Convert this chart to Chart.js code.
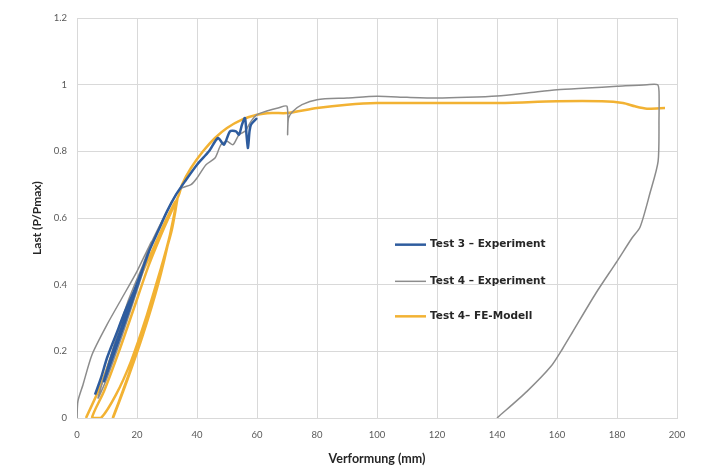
<!DOCTYPE html>
<html>
<head>
<meta charset="utf-8">
<script src="https://cdn.jsdelivr.net/npm/chart.js@4.4.1/dist/chart.umd.min.js"></script>
<style>
  html,body{margin:0;padding:0;background:#fff;}
  #wrap{width:711px;height:470px;position:relative;}
</style>
</head>
<body>
<div id="wrap"><canvas id="c" width="711" height="470"></canvas></div>
<script>
// Series names
const seriesNames = ["Test 3 \u2013 Experiment", "Test 4 \u2013 Experiment", "Test 4\u2013 FE-Modell"];

// Test 3 – Experiment: deformation (mm) and load (P/Pmax)
const test3X = [6, 8, 10, 13, 16, 19, 22, 18, 13, 9, 12, 16, 20, 24, 27, 30, 33, 36, 40, 44, 47, 49, 51, 53, 54, 55, 56, 56.5, 57, 57.5, 58, 60];
const test3Y = [0.07, 0.12, 0.18, 0.25, 0.32, 0.38, 0.45, 0.34, 0.21, 0.11, 0.2, 0.3, 0.4, 0.5, 0.56, 0.62, 0.67, 0.71, 0.76, 0.8, 0.84, 0.82, 0.86, 0.86, 0.85, 0.88, 0.9, 0.85, 0.81, 0.86, 0.88, 0.9];

// Test 4 – Experiment
const test4X = [0, 0.3, 2, 5, 10, 15, 20, 25, 17, 10, 7, 11, 17, 22, 25, 30, 33, 35, 38, 40, 43, 46, 48, 50, 52, 54, 56, 58, 60, 63, 67, 70, 70.2, 70.5, 72, 75, 80, 90, 100, 110, 120, 130, 140, 150, 160, 170, 180, 190, 193.5, 194, 194, 193.7, 191, 187.7, 185, 180, 173, 165, 162, 158, 150, 140];
const test4Y = [0, 0.05, 0.1, 0.19, 0.28, 0.36, 0.44, 0.53, 0.3, 0.12, 0.06, 0.18, 0.35, 0.46, 0.53, 0.62, 0.67, 0.69, 0.7, 0.72, 0.76, 0.78, 0.82, 0.83, 0.82, 0.85, 0.86, 0.89, 0.91, 0.92, 0.93, 0.935, 0.85, 0.9, 0.92, 0.94, 0.955, 0.96, 0.965, 0.962, 0.96, 0.962, 0.966, 0.975, 0.985, 0.99, 0.995, 1.0, 1.0, 0.98, 0.9, 0.77, 0.675, 0.573, 0.54, 0.47, 0.375, 0.255, 0.21, 0.155, 0.08, 0];

// Test 4 – FE-Modell
const feX = [3, 8, 14, 20, 26, 30, 33, 31, 27, 22, 17, 12, 14, 18, 23, 28, 31, 33.5, 31.5, 28, 23, 18, 13, 8, 5, 9, 14, 19, 24, 29, 32, 34, 35, 38, 42, 46, 50, 55, 60, 65, 70, 80, 90, 100, 120, 140, 160, 175, 182, 186, 190, 196];
const feY = [0, 0.1, 0.25, 0.4, 0.52, 0.6, 0.65, 0.55, 0.4, 0.25, 0.12, 0, 0.05, 0.15, 0.3, 0.45, 0.55, 0.66, 0.56, 0.45, 0.3, 0.17, 0.07, 0, 0, 0.08, 0.2, 0.33, 0.46, 0.57, 0.63, 0.67, 0.7, 0.75, 0.8, 0.84, 0.87, 0.895, 0.91, 0.915, 0.915, 0.93, 0.94, 0.945, 0.945, 0.945, 0.95, 0.95, 0.945, 0.935, 0.928, 0.93];

// Axis ticks
const xTicks = [0, 20, 40, 60, 80, 100, 120, 140, 160, 180, 200];
const yTicks = [0, 0.2, 0.4, 0.6, 0.8, 1, 1.2];

const colors = ["#2E5C9E", "#8C8C8C", "#F2B233"];
const widths = [2.5, 1.5, 2.5];

function pts(xs, ys){ return xs.map((x,i)=>({x:x, y:ys[i]})); }

const legendPlugin = {
  id: 'insideLegend',
  afterDatasetsDraw(chart){
    const ctx = chart.ctx;
    const xs = chart.scales.x, ys = chart.scales.y;
    const x0 = xs.getPixelForValue(106);
    const rows = [0.52, 0.41, 0.305];
    ctx.save();
    chart.data.datasets.forEach((ds, i)=>{
      const y = ys.getPixelForValue(rows[i]);
      ctx.strokeStyle = ds.borderColor;
      ctx.lineWidth = ds.borderWidth;
      ctx.beginPath();
      ctx.moveTo(x0, y);
      ctx.lineTo(x0 + 31, y);
      ctx.stroke();
      ctx.fillStyle = '#262626';
      ctx.font = 'bold 10.5px "DejaVu Sans"';
      ctx.textBaseline = 'middle';
      ctx.textAlign = 'left';
      ctx.fillText(ds.label, x0 + 35, y);
    });
    ctx.restore();
  }
};

new Chart(document.getElementById('c'), {
  type: 'line',
  data: {
    datasets: [
      {label: seriesNames[0], data: pts(test3X, test3Y), borderColor: colors[0], borderWidth: widths[0]},
      {label: seriesNames[1], data: pts(test4X, test4Y), borderColor: colors[1], borderWidth: widths[1]},
      {label: seriesNames[2], data: pts(feX, feY), borderColor: colors[2], borderWidth: widths[2]}
    ].map(d => Object.assign(d, {pointRadius: 0, fill: false, tension: 0.25, showLine: true}))
  },
  options: {
    responsive: false,
    animation: false,
    parsing: true,
    layout: {padding: {top: 18, right: 34, left: 26, bottom: 0}},
    plugins: {legend: {display: false}, tooltip: {enabled: false}},
    scales: {
      x: {
        type: 'linear', min: 0, max: 200,
        afterBuildTicks: s => { s.ticks = xTicks.map(v => ({value: v})); },
        afterFit: s => { s.height = 52; },
        grid: {color: '#d9d9d9', drawTicks: false, lineWidth: 1},
        border: {color: '#d9d9d9'},
        ticks: {color: '#595959', font: {family: 'Lato', size: 9.5}, padding: 11},
        title: {display: true, text: 'Verformung (mm)', color: '#262626', font: {family: 'Lato', size: 12.5, weight: 'bold'}, padding: {top: 4}}
      },
      y: {
        type: 'linear', min: 0, max: 1.2,
        afterBuildTicks: s => { s.ticks = yTicks.map(v => ({value: v})); },
        afterFit: s => { s.width = 51; },
        grid: {color: '#d9d9d9', drawTicks: false, lineWidth: 1},
        border: {color: '#d9d9d9'},
        ticks: {color: '#595959', font: {family: 'Lato', size: 9.5}, padding: 10, callback: v => String(v)},
        title: {display: true, text: 'Last (P/Pmax)', color: '#262626', font: {family: 'Lato', size: 12, weight: 'bold'}, padding: {bottom: 4}}
      }
    }
  },
  plugins: [legendPlugin]
});
</script>
</body>
</html>
